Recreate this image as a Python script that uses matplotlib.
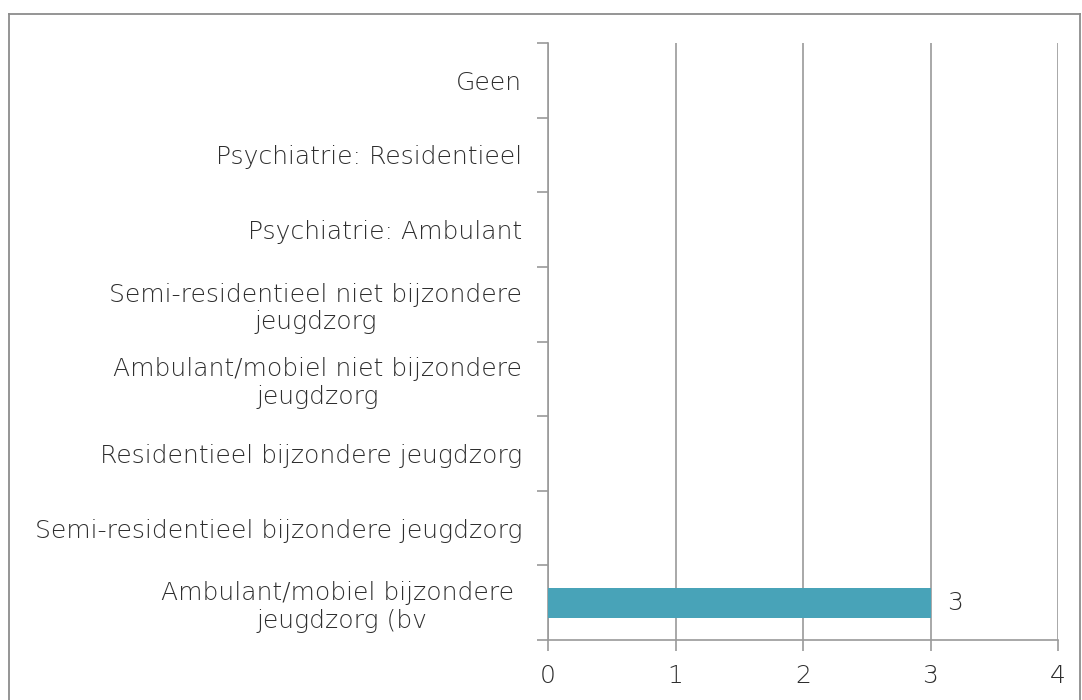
import matplotlib.pyplot as plt
import numpy as np
from matplotlib.lines import Line2D

# categories from top to bottom
categories = ['Geen',
              'Psychiatrie: Residentieel',
              'Psychiatrie: Ambulant',
              'Semi-residentieel niet bijzondere\njeugdzorg',
              'Ambulant/mobiel niet bijzondere\njeugdzorg',
              'Residentieel bijzondere jeugdzorg',
              'Semi-residentieel bijzondere jeugdzorg',
              'Ambulant/mobiel bijzondere \njeugdzorg (bv']
values = [np.nan, np.nan, np.nan, np.nan, np.nan, np.nan, np.nan, 3]
x_ticks = [0, 1, 2, 3, 4]

plt.rcParams['font.family'] = ['DejaVu Sans']
plt.rcParams['font.weight'] = 'light'
grey = '#9a9a9a'
txt = '#2e2e2e'
fs = 18

fig = plt.figure(figsize=(10.82, 7.0), dpi=100)
ax = fig.add_axes([548/1082, 60/700, 510/1082, 597/700])

pos = np.arange(len(categories))
vals = np.nan_to_num(np.array(values, dtype=float))
ax.barh(pos, vals, height=0.4, color='#48A3B8', zorder=3)
for p, v in zip(pos, values):
    if not np.isnan(v):
        ax.text(v + 0.13, p, '%d' % v, va='center', ha='left', fontsize=fs, color=txt)

ax.set_ylim(len(categories) - 0.5, -0.5)
ax.set_xlim(0, 4)
ax.set_xticks(x_ticks)
ax.set_yticks(pos)
ax.set_yticklabels(categories, multialignment='center', linespacing=1.2)
ax.set_yticks(np.arange(len(categories) + 1) - 0.5, minor=True)
ax.tick_params(axis='y', which='major', length=0, pad=18.5, labelsize=fs, labelcolor=txt)
ax.tick_params(axis='y', which='minor', length=8, width=1.2, color=grey)
ax.tick_params(axis='x', length=8, width=1.2, color=grey, pad=9, labelsize=fs, labelcolor=txt)

ax.grid(axis='x', color=grey, linewidth=1.2, zorder=0)
for s in ['top', 'right']:
    ax.spines[s].set_visible(False)
for s in ['left', 'bottom']:
    ax.spines[s].set_color(grey)
    ax.spines[s].set_linewidth(1.2)

# outer chart border
x0, x1, yt = 9/1082, 1080/1082, 1 - 14/700
for xs, ys in [([x0, x1], [yt, yt]), ([x0, x0], [yt, 0]), ([x1, x1], [yt, 0])]:
    fig.add_artist(Line2D(xs, ys, transform=fig.transFigure, color='#8c8c8c', linewidth=1.3))

fig.savefig('out.png', dpi=100)
